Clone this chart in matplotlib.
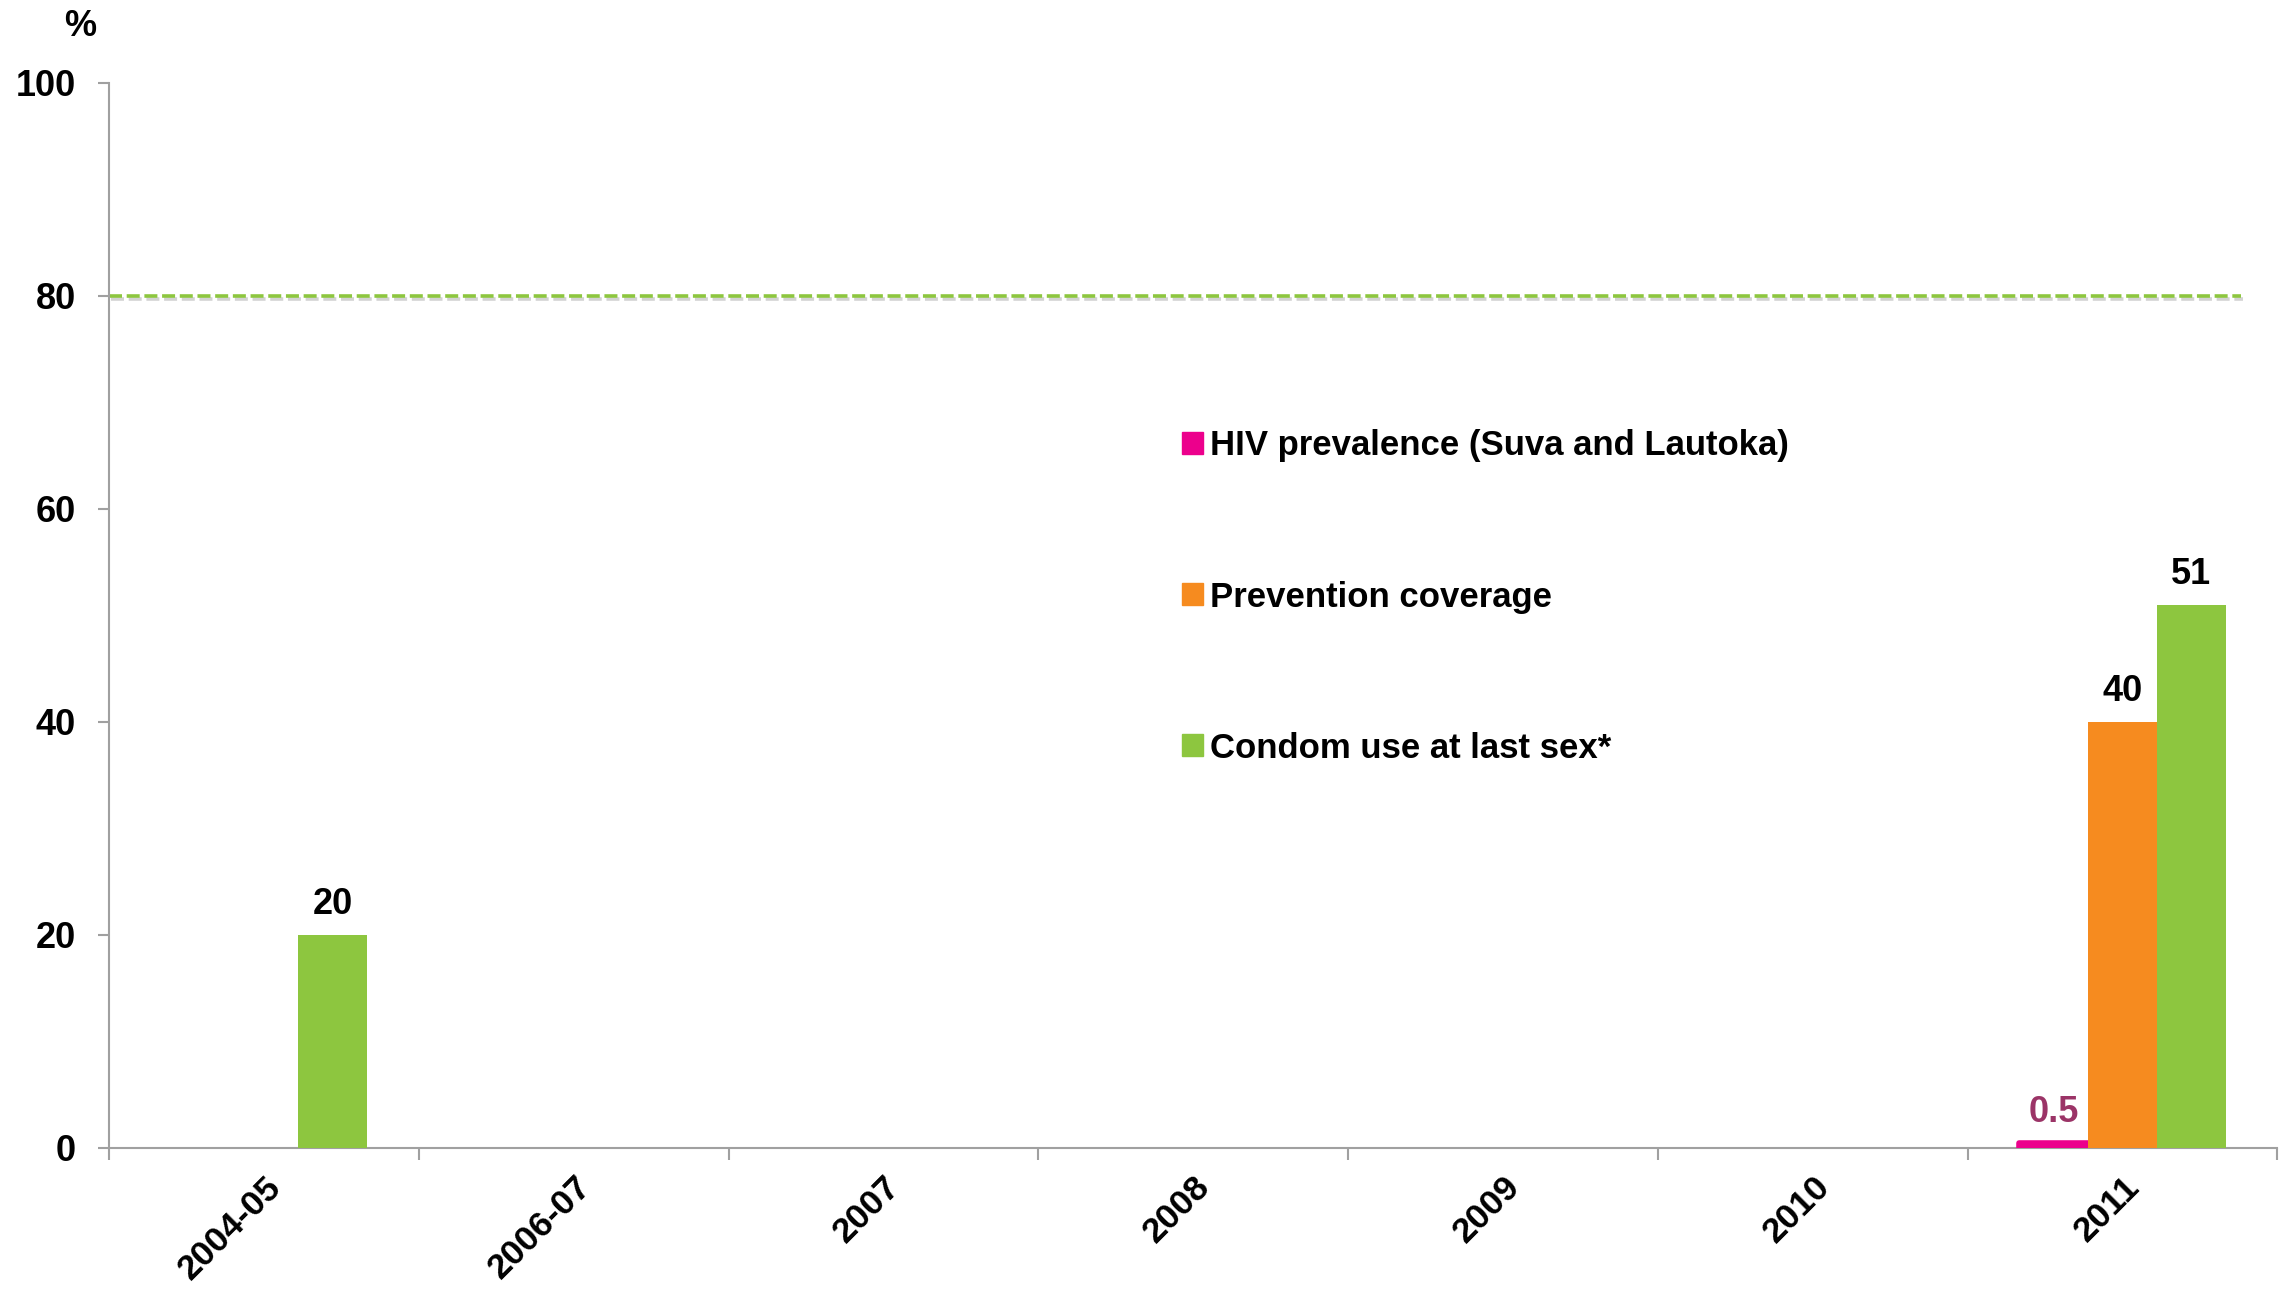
import numpy as np
import matplotlib
matplotlib.use("Agg")
import matplotlib.pyplot as plt
import matplotlib.patheffects as pe
from matplotlib.patches import Patch

plt.rcParams['font.family'] = ['Liberation Sans', 'DejaVu Sans']
plt.rcParams['font.weight'] = 'bold'

# data
years = ['2004-05', '2006-07', '2007', '2008', '2009', '2010', '2011']
hiv_prevalence = [np.nan, np.nan, np.nan, np.nan, np.nan, np.nan, 0.5]
prevention_coverage = [np.nan, np.nan, np.nan, np.nan, np.nan, np.nan, 40]
condom_use = [20, np.nan, np.nan, np.nan, np.nan, np.nan, 51]
target = 80
series_names = ['HIV prevalence (Suva and Lautoka)', 'Prevention coverage',
                'Condom use at last sex*']

pink = '#EC008C'
orange = '#F68B1F'
green = '#8DC63F'
axis_grey = '#A0A0A0'

fig = plt.figure(figsize=(22.82, 12.92), dpi=100)
ax = fig.add_axes([0.0478, 0.1115, 0.9502, 0.8243])

x = np.arange(len(years))
w = 0.222
ax.bar(x - w, hiv_prevalence, w, color=pink, edgecolor=pink, linewidth=4,
       joinstyle='round', zorder=2)
ax.bar(x, prevention_coverage, w, color=orange, zorder=3)
ax.bar(x + w, condom_use, w, color=green, zorder=3)

# value labels
for vals, off, col in [(hiv_prevalence, -w, '#9B3467'),
                       (prevention_coverage, 0, 'black'),
                       (condom_use, w, 'black')]:
    for xi, v in zip(x, vals):
        if np.isnan(v):
            continue
        txt = ('%g' % v)
        ax.annotate(txt, (xi + off, v), xytext=(0, 22), textcoords='offset points',
                    ha='center', va='center', fontsize=26, fontweight='bold', color=col)

# target line with soft shadow
ax.axhline(target, xmin=0, xmax=0.983, color=green, linewidth=2.6,
           dashes=(3.6, 1.3),
           path_effects=[pe.SimpleLineShadow(offset=(1.5, -2), shadow_color='grey', alpha=0.35),
                         pe.Normal()])

ax.set_xlim(-0.5, len(years) - 0.5)
ax.set_ylim(0, 100)

ax.set_yticks([0, 20, 40, 60, 80, 100])
ax.tick_params(axis='y', length=8, width=1.5, color=axis_grey, pad=16, labelsize=26)

ax.set_xticks(x)
ax.set_xticklabels(years, rotation=45, ha='right', va='top', rotation_mode='anchor',
                   fontsize=25.5, fontweight='bold')
ax.set_xticks(np.arange(-0.5, len(years)), minor=True)
ax.tick_params(axis='x', which='major', length=0, pad=16)
ax.tick_params(axis='x', which='minor', length=8.5, width=1.5, color=axis_grey)

for s in ['top', 'right']:
    ax.spines[s].set_visible(False)
for s in ['left', 'bottom']:
    ax.spines[s].set_color(axis_grey)
    ax.spines[s].set_linewidth(1.5)
ax.spines['bottom'].set_zorder(1)

handles = [Patch(color=c) for c in [pink, orange, green]]
fig.legend(handles, series_names, loc='center left',
           bbox_to_anchor=(1182 / 2282, 1 - 597 / 1292), frameon=False,
           handlelength=0.6, handleheight=0.6, handletextpad=0.22,
           labelspacing=3.4, borderpad=0, borderaxespad=0,
           prop={'weight': 'bold', 'size': 25})

fig.text(80 / 2282, 1 - 27 / 1292, '%', ha='center', va='center', fontsize=26,
         fontweight='bold')

fig.savefig('out.png', dpi=100)
